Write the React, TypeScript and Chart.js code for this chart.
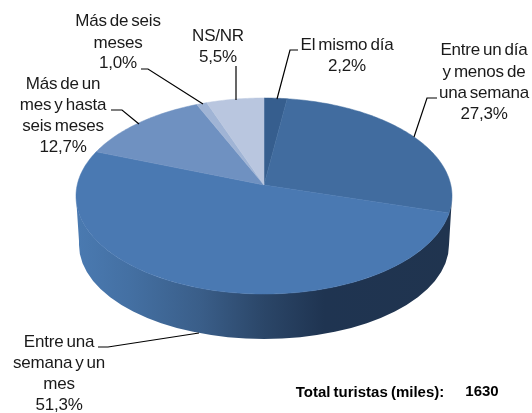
import React, { useEffect, useRef } from "react";
import { Chart, registerables } from "chart.js";

Chart.register(...registerables);

const categories = [
  ["El mismo día"],
  ["Entre un día", "y menos de", "una semana"],
  ["Entre una", "semana y un", "mes"],
  ["Más de un", "mes y hasta", "seis meses"],
  ["Más de seis", "meses"],
  ["NS/NR"],
];
const shares = [2.2, 27.3, 51.3, 12.7, 1.0, 5.5];
const sliceColors = ["#365E8E", "#416C9F", "#4A79B2", "#6F91C1", "#A0B4D5", "#B9C6DF"];
const totalLabel = "Total turistas (miles):";
const totalValue = "1630";

// Annotation layout, by slice: label centre, line positions and leader polyline.
const labelLayout = [
  { x: 347, y: [45, 66], leader: [[298, 50], [290, 50], [277, 99]] },
  { x: 484, y: [50, 72, 93, 114], leader: [[437, 98], [427, 98], [414, 137]] },
  { x: 59, y: [342, 363, 384, 405], leader: [[98, 347], [108, 347], [199, 333]] },
  { x: 63, y: [84, 105, 126, 147], leader: [[111, 110], [122, 110], [139, 124]] },
  { x: 118, y: [21, 43, 63], leader: [[141, 69], [148, 69], [203, 104]] },
  { x: 218, y: [36, 57], leader: [[236, 66], [236, 100]] },
];

const SQUASH = 98 / 188; // vertical foreshortening of the disc
const PERSP = -0.112; // apex displacement from the ellipse centre
const DEPTH = 45;
const BOTTOM_RX = 0.984;
const BOTTOM_SQUASH = 94 / 185;

const pie3d = {
  id: "pie3d",
  beforeDatasetsDraw(chart: any) {
    const { ctx } = chart;
    const arcs = chart.getDatasetMeta(0).data;
    const { x: cx, y: cy, outerRadius: rx } = arcs[0];
    const ry = rx * SQUASH;
    const s = Math.sqrt(1 - PERSP * PERSP);
    const project = (a: number, r = 1) => {
      const u = Math.cos(a) * r;
      const v = Math.sin(a) * r;
      const d = 1 + PERSP * v;
      return [cx + (rx * u * s) / d, cy + (ry * (v + PERSP)) / d];
    };

    // Side wall
    const brx = rx * BOTTOM_RX;
    const g = ctx.createLinearGradient(cx - rx, 0, cx + rx, 0);
    g.addColorStop(0, "#4A7AB1");
    g.addColorStop(0.14, "#4470A3");
    g.addColorStop(0.33, "#3A5E89");
    g.addColorStop(0.5, "#2B4668");
    g.addColorStop(0.66, "#1F3451");
    g.addColorStop(1, "#20344F");
    ctx.save();
    ctx.beginPath();
    ctx.ellipse(cx, cy, rx, ry, 0, 0, Math.PI, false);
    ctx.lineTo(cx - brx, cy + DEPTH);
    ctx.ellipse(cx, cy + DEPTH + 4, brx, brx * BOTTOM_SQUASH, 0, Math.PI, 0, true);
    ctx.closePath();
    ctx.fillStyle = g;
    ctx.fill();

    // Top faces, from the arcs Chart.js computed for the data
    arcs.forEach((arc: any) => {
      const steps = Math.max(4, Math.ceil((arc.endAngle - arc.startAngle) * 60));
      ctx.beginPath();
      const c = project(0, 0);
      ctx.moveTo(c[0], c[1]);
      for (let k = 0; k <= steps; k++) {
        const p = project(arc.startAngle + ((arc.endAngle - arc.startAngle) * k) / steps);
        ctx.lineTo(p[0], p[1]);
      }
      ctx.closePath();
      ctx.fillStyle = arc.options.backgroundColor;
      ctx.strokeStyle = arc.options.backgroundColor;
      ctx.lineWidth = 0.5;
      ctx.fill();
      ctx.stroke();
    });
    ctx.restore();
    return false;
  },
  afterDraw(chart: any) {
    const { ctx } = chart;
    ctx.save();
    ctx.strokeStyle = "#000";
    ctx.lineWidth = 1.2;
    ctx.fillStyle = "#1a1a1a";
    ctx.textAlign = "center";
    ctx.textBaseline = "middle";
    ctx.font = "17px 'Liberation Sans', Arial, sans-serif";
    ctx.letterSpacing = "-0.2px";
    ctx.wordSpacing = "-1.5px";
    labelLayout.forEach((l, i) => {
      ctx.beginPath();
      l.leader.forEach((p, k) => (k ? ctx.lineTo(p[0], p[1]) : ctx.moveTo(p[0], p[1])));
      ctx.stroke();
      const lines = [...categories[i], `${shares[i].toFixed(1).replace(".", ",")}%`];
      lines.forEach((t, k) => ctx.fillText(t, l.x, l.y[k]));
    });
    ctx.font = "bold 15px 'Liberation Sans', Arial, sans-serif";
    ctx.letterSpacing = "0px";
    ctx.wordSpacing = "-1px";
    ctx.fillStyle = "#000";
    ctx.fillText(totalLabel, 370, 393);
    ctx.fillText(totalValue, 482, 392);
    ctx.restore();
  },
};

export default function App() {
  const ref = useRef<HTMLCanvasElement>(null);
  useEffect(() => {
    const chart = new Chart(ref.current!, {
      type: "pie",
      data: {
        labels: categories.map((c) => c.join(" ")),
        datasets: [{ data: shares, backgroundColor: sliceColors, borderWidth: 0 }],
      },
      options: {
        animation: false,
        responsive: false,
        layout: { padding: { left: 76, right: 80, top: 8, bottom: 29 } },
        plugins: { legend: { display: false }, tooltip: { enabled: false } },
      },
      plugins: [pie3d],
    } as any);
    return () => chart.destroy();
  }, []);
  return (
    <div style={{ position: "absolute", left: 0, top: 0, width: 532, height: 413, background: "#fff" }}>
      <canvas ref={ref} width={532} height={413} style={{ display: "block" }} />
    </div>
  );
}
